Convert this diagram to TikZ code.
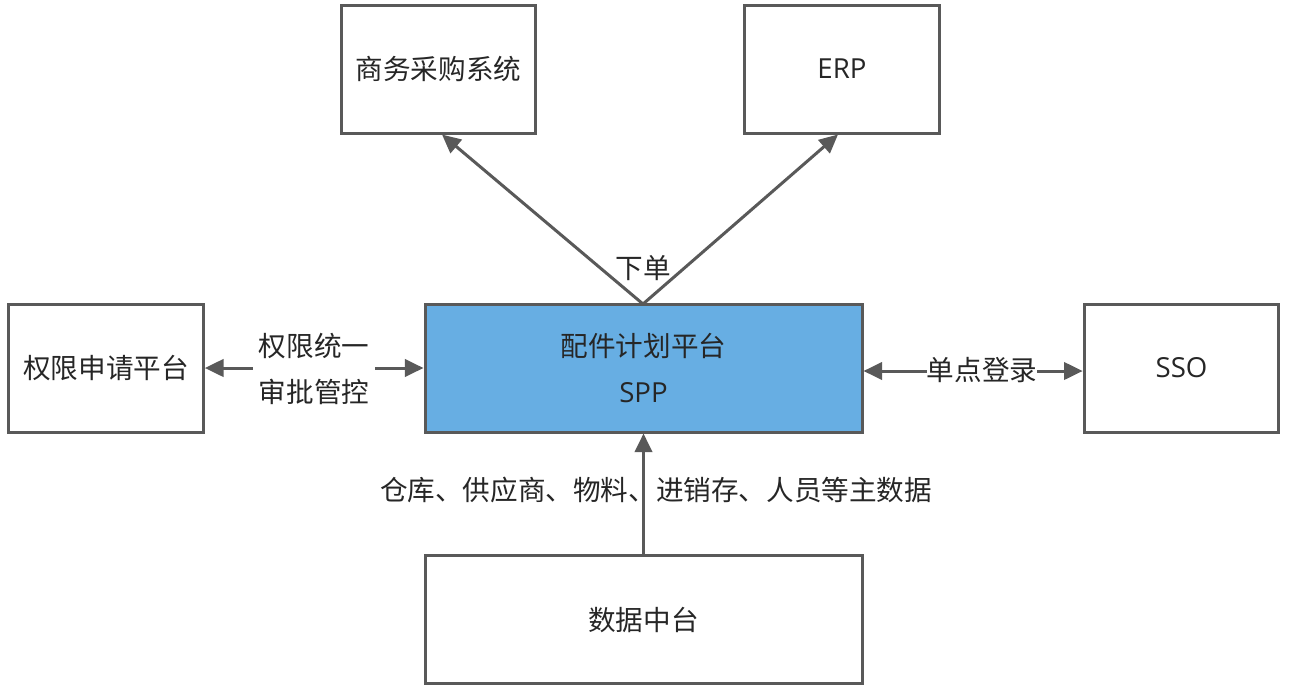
\documentclass[tikz,border=0pt]{standalone}
\usepackage{fontspec}
\setmainfont{Noto Sans CJK SC}
\newfontfamily\latinfont{Open Sans}
\usetikzlibrary{arrows.meta}
\definecolor{edge}{HTML}{595959}
\definecolor{sppblue}{HTML}{67AEE3}
\tikzset{
  sysbox/.style={draw=edge, line width=2.25pt, minimum width=#1, minimum height=96pt, inner sep=0pt, align=center, text=black!85},
  sysbox/.default=146pt,
  conn/.style={draw=edge, line width=2.25pt, -{Triangle[length=14pt,width=13pt]}},
  biconn/.style={draw=edge, line width=2.25pt, {Triangle[length=14pt,width=13pt]}-{Triangle[length=14pt,width=13pt]}},
  lbl/.style={text=black!85, align=center, inner sep=1pt}
}
\begin{document}
\begin{tikzpicture}[x=0.75pt,y=-0.75pt]
\fontsize{20.7pt}{34pt}\selectfont
\useasboundingbox (0,0) rectangle (1292,690);
\node[sysbox] (buy) at (438.5,69) {商务采购系统};
\node[sysbox] (erp) at (842,69) {\latinfont ERP};
\node[sysbox] (perm) at (106,368) {权限申请平台};
\node[sysbox=327.75pt, fill=sppblue] (spp) at (643.5,368) {配件计划平台\\{\latinfont SPP}};
\node[sysbox] (sso) at (1181.5,368) {\latinfont SSO};
\node[sysbox=327.75pt] (data) at (643.5,619.5) {数据中台};
\coordinate (top) at (643,304);
\draw[conn] (top) -- (buy.south west -| 442,133);
\draw[conn] (top) -- (erp.south east -| 838,133);
\node[lbl] (xd) at (643,268) {下单};
\draw[biconn] (perm.east) -- (spp.west);
\node[lbl, fill=white, inner xsep=4pt] (auth) at (314,369) {权限统一\\审批管控};
\draw[biconn] (spp.east |- 0,371) -- (sso.west |- 0,371);
\node[lbl, fill=white, inner sep=0pt] (sl) at (982,370) {单点登录};
\draw[conn] (data.north) -- (spp.south);
\node[lbl] (md) at (656,490) {仓库、供应商、物料、进销存、人员等主数据};
\end{tikzpicture}
\end{document}
